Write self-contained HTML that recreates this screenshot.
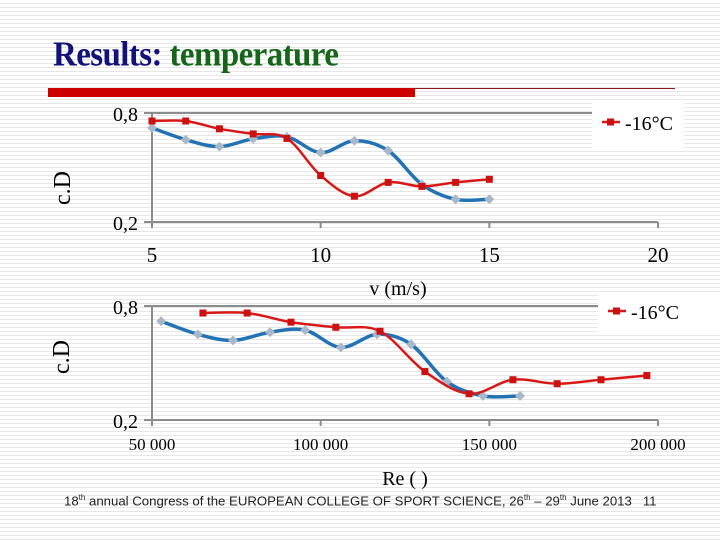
<!DOCTYPE html>
<html><head><meta charset="utf-8"><style>
body{margin:0}
#page{position:relative;width:720px;height:540px;overflow:hidden;background:#fff repeating-linear-gradient(to bottom,#fff 0,#fff 3px,#e6e6e6 3px,#e6e6e6 4px);font-family:"Liberation Serif",serif}
.t{position:absolute;white-space:nowrap}
</style></head><body>
<div id="page">
<div class="t" style="left:53px;top:36px;font-size:33px;font-weight:bold;letter-spacing:-0.6px;transform:scaleY(1.05);transform-origin:left top"><span style="color:#12127a">Results:</span> <span style="color:#16661a">temperature</span></div>
<div style="position:absolute;left:48px;top:88px;width:367px;height:9px;background:#cc0000"></div>
<div style="position:absolute;left:415px;top:88px;width:260px;height:1px;background:#8b1a1a"></div>
<svg id="svg" width="720" height="540" style="position:absolute;left:0;top:0"></svg>
<div class="t" style="left:64px;top:493px;font-family:'Liberation Sans',sans-serif;font-size:13.2px;color:#222">18<sup style="font-size:8px">th</sup> annual Congress of the EUROPEAN COLLEGE OF SPORT SCIENCE, 26<sup style="font-size:8px">th</sup> – 29<sup style="font-size:8px">th</sup> June 2013 &nbsp;&nbsp;11</div>
</div>
<script>
const v1 = [5,6,7,8,9,10,11,12,13,14,15];
const red1 = [0.756,0.756,0.713,0.685,0.66,0.456,0.342,0.418,0.396,0.418,0.435];
const blue1 = [0.718,0.653,0.615,0.658,0.669,0.582,0.647,0.593,0.407,0.325,0.325];
const ticks1 = [5,10,15,20];
const re2red = [65100,78200,91200,104500,117600,130900,144000,157000,170100,183100,196700];
const red2 = [0.763,0.763,0.715,0.688,0.667,0.455,0.338,0.412,0.391,0.412,0.434];
const re2blue = [52700,63600,74000,85000,95400,106000,116700,126800,137400,148100,159100];
const blue2 = [0.720,0.651,0.619,0.662,0.673,0.582,0.651,0.598,0.402,0.327,0.327];
const ticks2 = [50000,100000,150000,200000];
const tickLabels2 = ["50 000","100 000","150 000","200 000"];
const yTicks = [0.2,0.8];
const yTickLabels = ["0,2","0,8"];
const legendLabel = "-16°C";

const svg = document.getElementById('svg');
const NS='http://www.w3.org/2000/svg';
function mk(tag,attrs,parent){const e=document.createElementNS(NS,tag);for(const k in attrs)e.setAttribute(k,attrs[k]);(parent||svg).appendChild(e);return e;}
function smooth(pts){let d='M'+pts[0][0]+','+pts[0][1];for(let i=0;i<pts.length-1;i++){const p0=pts[Math.max(0,i-1)],p1=pts[i],p2=pts[i+1],p3=pts[Math.min(pts.length-1,i+2)];const c1=[p1[0]+(p2[0]-p0[0])/6,p1[1]+(p2[1]-p0[1])/6],c2=[p2[0]-(p3[0]-p1[0])/6,p2[1]-(p3[1]-p1[1])/6];d+=` C${c1[0]},${c1[1]} ${c2[0]},${c2[1]} ${p2[0]},${p2[1]}`;}return d;}
function chart(cfg){
  const X=v=>cfg.x0+(v-cfg.xmin)/(cfg.xmax-cfg.xmin)*(cfg.x1-cfg.x0);
  const Y=v=>cfg.y1-(v-0.2)/0.6*(cfg.y1-cfg.y0);
  const g=mk('g',{});
  
  
  let e=mk('line',{x1:cfg.x0-8,x2:cfg.x1,y1:cfg.y0,y2:cfg.y0,stroke:'#8c8c8c','stroke-width':2},g);
  
  e=mk('line',{x1:cfg.x0-8,x2:cfg.x1,y1:cfg.y1,y2:cfg.y1,stroke:'#8c8c8c','stroke-width':2},g);
  
  e=mk('line',{x1:cfg.x0,x2:cfg.x0,y1:cfg.y0,y2:cfg.y1+6,stroke:'#8c8c8c','stroke-width':2},g);
  
  cfg.ticks.forEach((t,i)=>{
    const tl=mk('line',{x1:X(t),x2:X(t),y1:cfg.y1,y2:cfg.y1+6,stroke:'#8c8c8c','stroke-width':2},g);
    
    const tx=mk('text',{x:X(t),y:cfg.y1+cfg.labOff,'text-anchor':'middle','font-size':cfg.fs,fill:'#000'},g);
    tx.textContent=cfg.labels[i];
    
  });
  yTicks.forEach((t,i)=>{
    const tx=mk('text',{x:cfg.x0-14,y:Y(t)+8,'text-anchor':'end','font-size':20,fill:'#000'},g);
    tx.textContent=yTickLabels[i];
    
  });
  const bp=cfg.bx.map((v,i)=>[X(v),Y(cfg.by[i])]);
  const rp=cfg.rx.map((v,i)=>[X(v),Y(cfg.ry[i])]);
  e=mk('path',{d:smooth(bp),fill:'none',stroke:'#2373b4','stroke-width':3.5},g);
  
  bp.forEach(p=>{const m=mk('rect',{x:p[0]-3.5,y:p[1]-3.5,width:7,height:7,fill:'#a9b8c8',transform:`rotate(45 ${p[0]} ${p[1]})`},g);
    });
  e=mk('path',{d:smooth(rp),fill:'none',stroke:'#d81818','stroke-width':2.5},g);
  
  rp.forEach(p=>{const m=mk('rect',{x:p[0]-3.5,y:p[1]-3.5,width:7,height:7,fill:'#cc1111'},g);
    });
  const lg=mk('g',{},g);
  
  mk('rect',{x:cfg.lx,y:cfg.ly,width:cfg.lw,height:cfg.lh,fill:'#fff'},lg);
  mk('line',{x1:cfg.lx+10,x2:cfg.lx+28,y1:cfg.ly+cfg.lh/2-3,y2:cfg.ly+cfg.lh/2-3,stroke:'#d81818','stroke-width':2.5},lg);
  mk('rect',{x:cfg.lx+15,y:cfg.ly+cfg.lh/2-6.5,width:7,height:7,fill:'#cc1111'},lg);
  const lt=mk('text',{x:cfg.lx+33,y:cfg.ly+cfg.lh/2+5,'font-size':20,fill:'#000'},lg);
  lt.textContent=legendLabel;
  
  const yt=mk('text',{x:0,y:0,'font-size':24,fill:'#000','text-anchor':'middle',transform:`translate(${cfg.ytx},${cfg.yty}) rotate(-90)`},g);
  yt.textContent='c.D';
  const xt=mk('text',{x:cfg.xtx,y:cfg.xty,'font-size':20,fill:'#000','text-anchor':'middle'},g);
  xt.textContent=cfg.xtitle;
}
chart({name:'chart-velocity',x0:152,x1:658,xmin:5,xmax:20,y0:113,y1:222,ticks:ticks1,labels:ticks1.map(String),labOff:40,fs:21,
  bx:v1,by:blue1,rx:v1,ry:red1,lx:592,ly:100,lw:92,lh:50,ytx:70,yty:188,xtitle:'v (m/s)',xtx:398,xty:295});
chart({name:'chart-reynolds',x0:152,x1:658,xmin:50000,xmax:200000,y0:306,y1:420,ticks:ticks2,labels:tickLabels2,labOff:30,fs:17,
  bx:re2blue,by:blue2,rx:re2red,ry:red2,lx:598,ly:293,lw:122,lh:42,ytx:69,yty:357,xtitle:'Re ( )',xtx:405,xty:485});
</script>
</body></html>
